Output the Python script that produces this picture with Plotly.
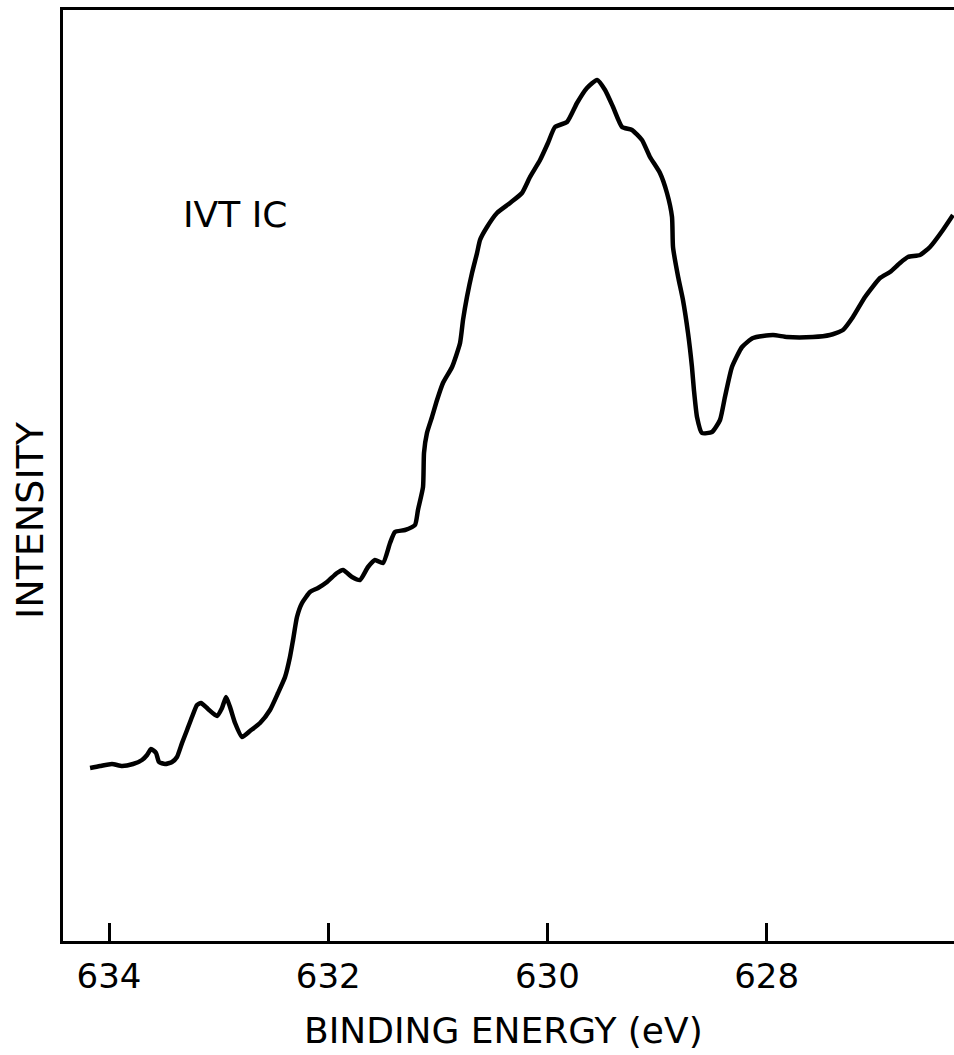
import plotly.graph_objects as go

# Binding energy (eV) and intensity (arbitrary units)
energy = [634.173, 634.082, 633.973, 633.881, 633.781, 633.699, 633.653, 633.617, 633.571, 633.544,
          633.489, 633.425, 633.380, 633.334, 633.288, 633.243, 633.197, 633.161, 633.097, 633.015,
          632.969, 632.932, 632.896, 632.850, 632.786, 632.714, 632.622, 632.531, 632.458, 632.394,
          632.349, 632.321, 632.285, 632.239, 632.166, 632.093, 632.011, 631.920, 631.865, 631.783,
          631.710, 631.637, 631.573, 631.500, 631.436, 631.391, 631.299, 631.208, 631.181, 631.135,
          631.126, 631.099, 631.053, 631.007, 630.953, 630.870, 630.797, 630.770, 630.734, 630.688,
          630.642, 630.615, 630.551, 630.460, 630.341, 630.232, 630.159, 630.067, 629.995, 629.931,
          629.821, 629.730, 629.639, 629.547, 629.474, 629.401, 629.319, 629.228, 629.137, 629.064,
          628.973, 628.909, 628.863, 628.854, 628.807, 628.763, 628.717, 628.681, 628.663, 628.635,
          628.590, 628.498, 628.425, 628.380, 628.316, 628.224, 628.124, 627.942, 627.814, 627.577,
          627.422, 627.303, 627.212, 627.102, 626.965, 626.874, 626.783, 626.710, 626.600, 626.509,
          626.391, 626.299]
intensity = [173, 175, 177, 175, 177, 181, 186, 192, 188, 179,
             177, 179, 184, 198, 211, 224, 236, 238, 232, 225,
             233, 244, 234, 218, 204, 210, 218, 231, 248, 264,
             284, 301, 324, 338, 349, 353, 359, 368, 371, 364,
             361, 374, 381, 378, 398, 409, 411, 416, 431, 454,
             488, 508, 524, 541, 558, 574, 598, 621, 644, 668,
             688, 701, 714, 728, 738, 748, 764, 781, 798, 814,
             819, 838, 853, 861, 851, 834, 814, 811, 801, 784,
             768, 748, 724, 694, 664, 641, 608, 574, 551, 524,
             508, 509, 521, 544, 574, 594, 603, 606, 604, 604,
             606, 611, 624, 644, 663, 669, 678, 684, 686, 694,
             711, 726]

tick_vals = [634, 632, 630, 628]
tick_text = ["634", "632", "630", "628"]

W, H = 954, 1055
ml, mr, mt, mb = 63, 0, 10, 114
pw, ph = W - ml - mr, H - mt - mb

def px(x):
    return (x - ml) / pw

def py(y):
    return (H - mb - y) / ph

FONT = "DejaVu Sans"

fig = go.Figure()
fig.add_trace(go.Scatter(x=energy, y=intensity, mode="lines",
                         line=dict(color="black", width=4.5, shape="spline", smoothing=0.5),
                         showlegend=False, hoverinfo="skip"))

ann = dict(xref="paper", yref="paper", showarrow=False, xanchor="center", yanchor="middle")

fig.update_layout(
    width=W, height=H,
    margin=dict(l=ml, r=mr, t=mt, b=mb, pad=0),
    paper_bgcolor="white", plot_bgcolor="white",
    xaxis=dict(range=[634.42, 626.29], showgrid=False, zeroline=False,
               showline=True, linecolor="black", linewidth=3, mirror=True,
               ticks="inside", ticklen=18, tickwidth=3, tickcolor="black",
               tickvals=tick_vals, ticktext=tick_text, ticklabelstandoff=3,
               tickfont=dict(family=FONT, size=34, color="black")),
    yaxis=dict(range=[0, 931], showgrid=False, zeroline=False,
               showline=True, linecolor="black", linewidth=3,
               showticklabels=False, ticks=""),
    annotations=[
        dict(text="IVT IC", x=px(235), y=py(215),
             font=dict(family=FONT, size=36, color="black"), **ann),
        dict(text="BINDING ENERGY (eV)", x=px(503), y=py(1030),
             font=dict(family=FONT, size=36, color="black"), **ann),
        dict(text="INTENSITY", x=px(30), y=py(520), textangle=-90,
             font=dict(family=FONT, size=38, color="black"), **ann),
    ],
)

fig.write_html("out.html")
